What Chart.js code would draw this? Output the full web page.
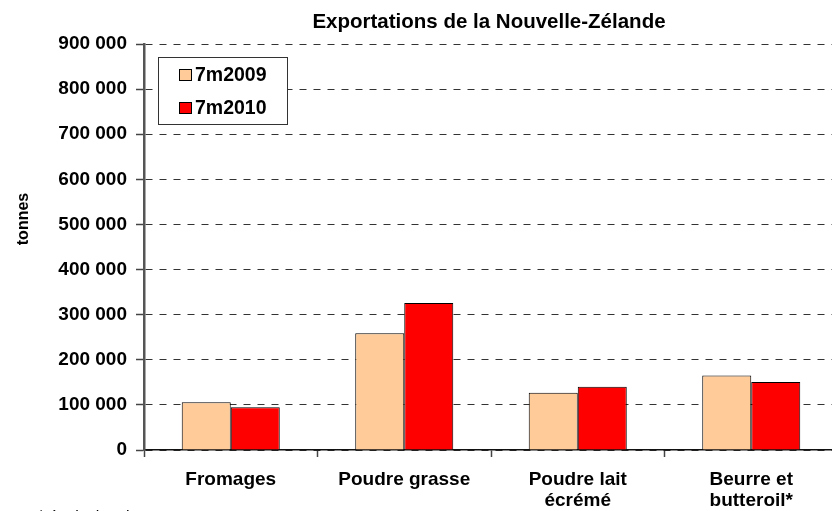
<!DOCTYPE html>
<html lang="fr">
<head>
<meta charset="UTF-8">
<title>Exportations de la Nouvelle-Zélande</title>
<script src="https://cdn.jsdelivr.net/npm/chart.js"></script>
<style>
  html, body { margin: 0; padding: 0; background: #fff; overflow: hidden; }
  #wrap { width: 838px; height: 511px; }
</style>
</head>
<body>
<div id="wrap"><canvas id="exportChart" width="838" height="511"></canvas></div>
<script>
// Data (tonnes)
const categories = ["Fromages", "Poudre grasse", ["Poudre lait", "écrémé"], ["Beurre et", "butteroil*"]];
const series2009 = [106000, 259000, 127000, 165000];
const series2010 = [95000, 326000, 140000, 151000];
const yTicks = [0, 100000, 200000, 300000, 400000, 500000, 600000, 700000, 800000, 900000];

const FONT = "Liberation Sans, Arial, sans-serif";

function fmt(v) {
    return String(v).replace(/\B(?=(\d{3})+(?!\d))/g, " ");
}

// title, y title, legend box and footnote
const decorations = {
    id: "decorations",
    afterDraw(chart) {
        const ctx = chart.ctx;
        ctx.save();
        ctx.fillStyle = "#000";

        ctx.font = "bold 20.5px " + FONT;
        ctx.textAlign = "center";
        ctx.textBaseline = "alphabetic";
        ctx.fillText("Exportations de la Nouvelle-Zélande", 489, 28);

        ctx.save();
        ctx.translate(24, 219);
        ctx.rotate(-Math.PI / 2);
        ctx.font = "bold 16px " + FONT;
        ctx.textBaseline = "middle";
        ctx.fillText("tonnes", 0, 0);
        ctx.restore();

        // legend
        ctx.fillStyle = "#fff";
        ctx.fillRect(158, 57, 129, 67);
        ctx.strokeStyle = "#333";
        ctx.lineWidth = 1;
        ctx.setLineDash([]);
        ctx.strokeRect(158.5, 57.5, 129, 67);
        const rows = [75, 108];
        chart.data.datasets.forEach((ds, i) => {
            ctx.fillStyle = ds.backgroundColor;
            ctx.fillRect(179, rows[i] - 6, 12, 11);
            ctx.strokeStyle = "#000";
            ctx.strokeRect(179.5, rows[i] - 5.5, 12, 11);
            ctx.fillStyle = "#000";
            ctx.font = "bold 19.5px " + FONT;
            ctx.textAlign = "left";
            ctx.textBaseline = "middle";
            ctx.fillText(ds.label, 195, rows[i] + 1);
        });

        ctx.font = "16px " + FONT;
        ctx.textAlign = "left";
        ctx.textBaseline = "alphabetic";
        ctx.fillText("* équivalent beurre", 38, 522);
        ctx.restore();
    }
};

new Chart(document.getElementById("exportChart"), {
    type: "bar",
    data: {
        labels: categories,
        datasets: [
            { label: "7m2009", data: series2009, backgroundColor: "#FFCC99", borderColor: "#000", borderWidth: 1 },
            { label: "7m2010", data: series2010, backgroundColor: "#FF0000", borderColor: "#000", borderWidth: 1 }
        ]
    },
    options: {
        responsive: false,
        animation: false,
        devicePixelRatio: 1,
        layout: { padding: { top: 44, left: 0, right: 0, bottom: 0 } },
        plugins: { legend: { display: false }, title: { display: false }, tooltip: { enabled: false } },
        datasets: { bar: { categoryPercentage: 0.565, barPercentage: 1 } },
        scales: {
            x: {
                offset: true,
                grid: { display: true, drawOnChartArea: false, offset: true, tickLength: 7, tickColor: "#444", tickWidth: 1.5 },
                border: { color: "#111", width: 1.5 },
                ticks: {
                    color: "#000",
                    padding: 12,
                    maxRotation: 0,
                    autoSkip: false,
                    font: { family: FONT, size: 19, weight: "bold", lineHeight: 1.13 }
                },
                afterFit(scale) { scale.height = 61; }
            },
            y: {
                min: 0,
                max: 900000,
                afterBuildTicks(scale) { scale.ticks = yTicks.map(v => ({ value: v })); },
                grid: {
                    color: "#333",
                    lineWidth: 1,
                    tickLength: 8,
                    tickColor: "#444",
                    tickWidth: 1.5,
                    tickBorderDash: []
                },
                border: { color: "#555", width: 2.5, dash: [7, 7] },
                ticks: {
                    color: "#000",
                    padding: 9,
                    font: { family: FONT, size: 19, weight: "bold" },
                    callback: v => fmt(v)
                },
                afterFit(scale) { scale.width = 144; }
            }
        }
    },
    plugins: [decorations]
});
</script>
</body>
</html>
